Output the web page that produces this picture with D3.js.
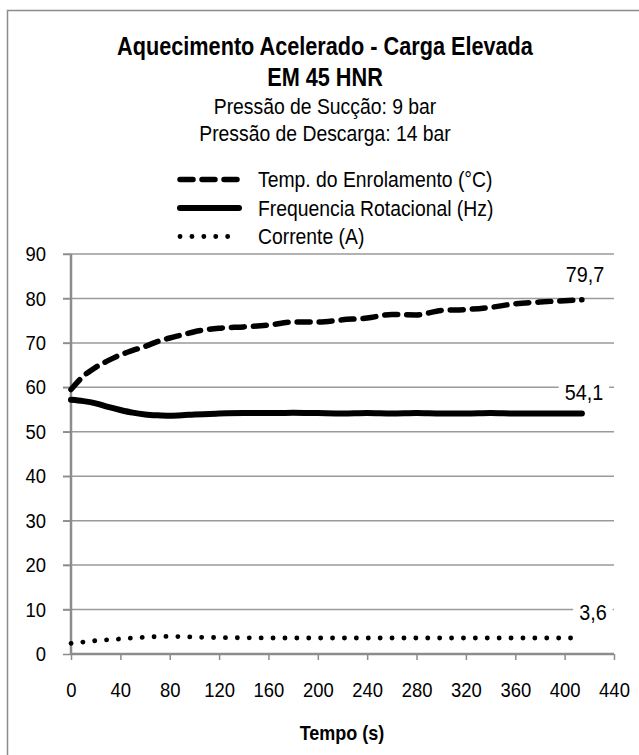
<!DOCTYPE html>
<html>
<head>
<meta charset="utf-8">
<script src="https://cdn.jsdelivr.net/npm/d3@7"></script>
<style>
  body { margin: 0; background: #fff; }
  svg text { font-family: "Liberation Sans", Arial, sans-serif; fill: #000; }
</style>
</head>
<body>
<svg id="chart" width="639" height="755"></svg>
<script>
// tempo (s)
const tempo = [0, 10, 20, 30, 40, 50, 60, 70, 80, 90, 100, 120, 140, 160, 180, 200, 220, 240, 260, 280, 300, 320, 340, 360, 380, 400, 414];
// Temp. do Enrolamento (°C)
const temperatura = [59.5, 62.5, 64.5, 66, 67.3, 68.3, 69.2, 70.3, 71.1, 71.8, 72.5, 73.3, 73.6, 74, 74.7, 74.7, 75.2, 75.6, 76.4, 76.3, 77.3, 77.5, 78, 78.8, 79.2, 79.5, 79.7];
// Frequencia Rotacional (Hz)
const frequencia = [57.2, 56.9, 56.4, 55.6, 54.9, 54.3, 53.9, 53.7, 53.6, 53.7, 53.9, 54.1, 54.2, 54.2, 54.3, 54.2, 54.1, 54.2, 54.1, 54.2, 54.1, 54.1, 54.2, 54.1, 54.1, 54.1, 54.1];
// Corrente (A)
const corrente = [2.4, 2.7, 3.0, 3.2, 3.4, 3.6, 3.8, 3.9, 3.95, 3.9, 3.8, 3.7, 3.65, 3.6, 3.6, 3.6, 3.6, 3.6, 3.6, 3.6, 3.6, 3.6, 3.6, 3.6, 3.6, 3.6, 3.6];

const xTicks = [0, 40, 80, 120, 160, 200, 240, 280, 320, 360, 400, 440];
const yTicks = [0, 10, 20, 30, 40, 50, 60, 70, 80, 90];

const titulo = ["Aquecimento Acelerado - Carga Elevada", "EM 45 HNR"];
const subtitulo = ["Pressão de Sucção: 9 bar", "Pressão de Descarga: 14 bar"];
const nomes = ["Temp. do Enrolamento (°C)", "Frequencia Rotacional (Hz)", "Corrente (A)"];
const rotulos = ["79,7", "54,1", "3,6"];

const svg = d3.select("#chart");
const ESTREITO = 0.9; // narrow-ish text like the original

// text squeezed horizontally
function texto(parent, x, y, str, size, anchor, bold, sx) {
  return parent.append("text")
      .attr("transform", `translate(${x},${y}) scale(${sx || ESTREITO},1)`)
      .attr("text-anchor", anchor || "start")
      .attr("font-size", size)
      .attr("font-weight", bold ? "bold" : null)
      .text(str);
}

// chart frame
svg.append("rect")
    .attr("x", 7.5).attr("y", 10.5)
    .attr("width", 700).attr("height", 800)
    .attr("fill", "none")
    .attr("stroke", "#8c8c8c")
    .attr("stroke-width", 1.5);

const x = d3.scaleLinear().domain([0, 440]).range([71, 614]);
const y = d3.scaleLinear().domain([0, 90]).range([654, 254]);

// grid
svg.append("g")
    .selectAll("line")
    .data(yTicks.filter(d => d > 0))
    .join("line")
    .attr("x1", 63).attr("x2", 614)
    .attr("y1", d => y(d)).attr("y2", d => y(d))
    .attr("stroke", "#9a9a9a")
    .attr("stroke-width", 1.5);

// axes
const xAxis = svg.append("g")
    .attr("transform", `translate(0,${y(0)})`)
    .call(d3.axisBottom(x).tickValues(xTicks).tickSize(6));
const yAxis = svg.append("g")
    .attr("transform", `translate(${x(0)},0)`)
    .call(d3.axisLeft(y).tickValues(yTicks).tickSize(8));

[xAxis, yAxis].forEach(g => {
  g.select(".domain").attr("stroke", "#8c8c8c").attr("stroke-width", 2.5);
  g.selectAll(".tick line").attr("stroke", "#8c8c8c").attr("stroke-width", 1.5);
  g.selectAll(".tick text").attr("font-size", 20.5).attr("fill", "#000")
    .attr("font-family", '"Liberation Sans", Arial, sans-serif');
});
xAxis.select(".domain").attr("d", `M${x(0)},0H${x(440)}`);
yAxis.select(".domain").attr("d", `M0,${y(0)}V${y(90)}`);
xAxis.selectAll(".tick text")
    .attr("y", 0).attr("dy", 0)
    .attr("transform", `translate(0,43) scale(${ESTREITO},1)`);
yAxis.selectAll(".tick text")
    .attr("x", 0)
    .attr("transform", `translate(-25,0) scale(${ESTREITO},1)`);

// series
const estilos = [
  { dados: temperatura, width: 5.5, dash: "13 9" },
  { dados: frequencia, width: 6, dash: null },
  { dados: corrente, width: 4.8, dash: "0.1 11.8" }
];

const linha = vals => d3.line()
    .x((d, i) => x(tempo[i]))
    .y(d => y(d))
    .curve(d3.curveMonotoneX)(vals);

estilos.forEach(s => {
  svg.append("path")
      .attr("d", linha(s.dados))
      .attr("fill", "none")
      .attr("stroke", "#000")
      .attr("stroke-width", s.width)
      .attr("stroke-linecap", "round")
      .attr("stroke-linejoin", "round")
      .attr("stroke-dasharray", s.dash);
});

// data labels above the last point
const ultimo = tempo.length - 1;
const dxLabel = [3, 2, 11];
const dyLabel = [-18, -13.5, -18];
[temperatura, frequencia, corrente].forEach((vals, k) => {
  const tx = x(tempo[ultimo]) + dxLabel[k];
  const ty = y(vals[ultimo]) + dyLabel[k];
  const fundo = svg.append("rect").attr("fill", "#fff");
  const t = texto(svg, tx, ty, rotulos[k], 22, "middle");
  const bb = t.node().getBoundingClientRect();
  fundo.attr("x", bb.x - 6).attr("y", bb.y + 3)
      .attr("width", bb.width + 12).attr("height", bb.height - 6);
});

// title
texto(svg, 325, 55, titulo[0], 25.5, "middle", true, 0.85);
texto(svg, 325, 86, titulo[1], 25.5, "middle", true, 0.85);
subtitulo.forEach((s, i) => {
  texto(svg, 325, 114 + i * 27, s, 21.5, "middle");
});

// legend
const legenda = svg.append("g");
estilos.forEach((s, i) => {
  const ly = 179.5 + i * 28.5;
  legenda.append("line")
      .attr("x1", 180).attr("x2", 239)
      .attr("y1", ly).attr("y2", ly)
      .attr("stroke", "#000")
      .attr("stroke-width", s.width)
      .attr("stroke-linecap", "round")
      .attr("stroke-dasharray", s.dash);
  texto(legenda, 258, ly + 7.5, nomes[i], 21.5);
});

// x axis title
texto(svg, 342, 740, "Tempo (s)", 20, "middle", true);
</script>
</body>
</html>
